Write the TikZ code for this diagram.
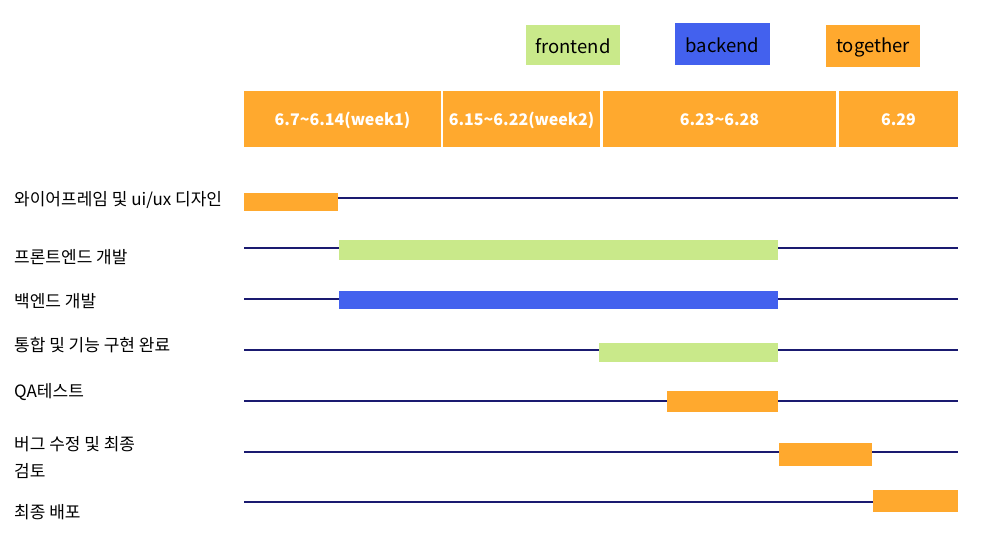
\documentclass[tikz,border=0pt]{standalone}
\usepackage{fontspec}
\setmainfont{Noto Sans CJK KR}
\usepackage{tikz}

\definecolor{barorange}{HTML}{FFA92E}
\definecolor{bargreen}{HTML}{C9E98A}
\definecolor{barblue}{HTML}{4361EE}
\definecolor{rowline}{HTML}{1A1A70}

\begin{document}
\begin{tikzpicture}[x=1pt, y=-1pt,
    task/.style={font=\fontsize{17}{20}\selectfont, anchor=west, inner sep=0pt},
    head/.style={font=\fontsize{16}{19}\selectfont\bfseries, text=white, inner sep=0pt},
    legend/.style={font=\fontsize{18.5}{21}\selectfont, inner sep=0pt}]
  \useasboundingbox (0,0) rectangle (983,544);
  % ---------- legend ----------
  \fill[bargreen] (526,25) rectangle (620,65);
  \node[legend] (lgfront) at (573,46) {frontend};
  \fill[barblue] (675,23) rectangle (770,65);
  \node[legend] (lgback) at (722.5,45) {backend};
  \fill[barorange] (826,25) rectangle (920,67);
  \node[legend] (lgtog) at (873,47) {together};
  % ---------- header ----------
  \fill[barorange] (244,91) rectangle (441,147);
  \fill[barorange] (443,91) rectangle (600,147);
  \fill[barorange] (603,91) rectangle (836,147);
  \fill[barorange] (839,91) rectangle (958,147);
  \node[head] (wk1) at (342.5,120) {6.7\textasciitilde6.14(week1)};
  \node[head] (wk2) at (521.5,120) {6.15\textasciitilde6.22(week2)};
  \node[head] (wk3) at (719.5,120) {6.23\textasciitilde6.28};
  \node[head] (wk4) at (898.5,120) {6.29};
  % ---------- row lines ----------
  \foreach \y in {198,248,299,350,401,452,502}
    \draw[rowline, line width=1.1pt] (244,\y) -- (958,\y);
  % ---------- bars ----------
  \fill[barorange] (244,193) rectangle (338,211);
  \fill[bargreen] (339,240) rectangle (778,260);
  \fill[barblue] (339,291) rectangle (778,309);
  \fill[bargreen] (599,343) rectangle (778,362);
  \fill[barorange] (667,391) rectangle (778,412);
  \fill[barorange] (779,443) rectangle (872,466);
  \fill[barorange] (873,490) rectangle (958,512);
  % ---------- task labels ----------
  \node[task] (t1) at (14,200) {와이어프레임 및 ui/ux 디자인};
  \node[task] (t2) at (14,257) {프론트엔드 개발};
  \node[task] (t3) at (14,301) {백엔드 개발};
  \node[task] (t4) at (14,345) {통합 및 기능 구현 완료};
  \node[task] (t5) at (14,392) {QA테스트};
  \node[task] (t6) at (14,444) {버그 수정 및 최종};
  \node[task] (t6b) at (14,471) {검토};
  \node[task] (t7) at (14,512) {최종 배포};
\end{tikzpicture}
\end{document}
